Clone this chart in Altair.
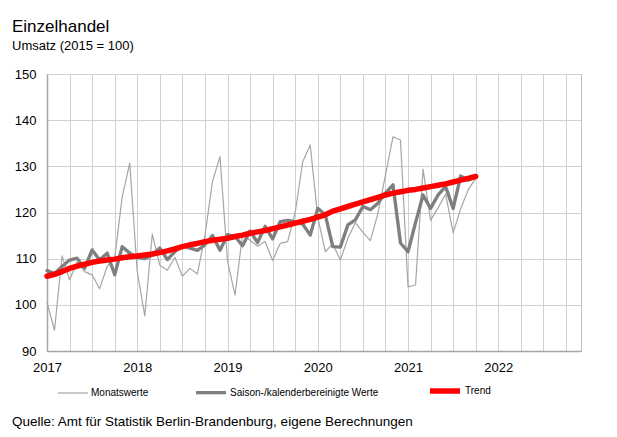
import altair as alt
import pandas as pd

# Monthly index Jan 2017 .. Oct 2021 (58 months)
months = [f"{y}-{m:02d}" for y in range(2017, 2022) for m in range(1, 13)][:58]

monatswerte = [
    100.5, 94.5, 110.6, 105.4, 109.3, 107.2, 106.5, 103.5, 108.3, 110.2, 123.4, 130.7,
    107.2, 97.6, 115.3, 108.6, 107.5, 110.3, 106.2, 107.9, 106.7, 115.0, 126.7, 132.1,
    109.5, 102.1, 115.2, 114.0, 112.7, 113.7, 109.6, 113.3, 113.7, 120.0, 131.0, 134.6,
    119.0, 111.5, 113.2, 109.7, 114.4, 117.8, 115.7, 113.9, 119.8, 128.1, 136.4, 135.7,
    103.9, 104.3, 129.4, 118.3, 121.0, 124.0, 115.6, 120.8, 124.9, 127.4,
]
saison = [
    107.4, 106.8, 108.3, 109.7, 110.1, 107.9, 111.9, 109.7, 111.2, 106.5, 112.6, 111.2,
    110.3, 110.0, 110.8, 112.3, 109.8, 111.5, 112.8, 112.3, 111.8, 113.0, 115.0, 111.8,
    115.2, 114.8, 112.8, 116.0, 113.5, 117.0, 114.3, 118.0, 118.3, 118.0, 117.5, 115.1,
    120.9, 119.5, 112.6, 112.5, 117.3, 118.4, 121.3, 120.6, 122.0, 124.2, 126.0, 113.4,
    111.5, 117.8, 123.8, 120.9, 123.8, 125.6, 120.9, 127.9, 127.0, 127.8,
]
trend = [
    106.2, 106.6, 107.2, 107.9, 108.4, 108.8, 109.2, 109.5, 109.7, 109.9, 110.2, 110.4,
    110.6, 110.8, 111.0, 111.3, 111.7, 112.1, 112.6, 113.0, 113.3, 113.7, 114.0, 114.2,
    114.4, 114.8, 115.1, 115.5, 115.8, 116.1, 116.5, 116.9, 117.3, 117.7, 118.1, 118.5,
    119.0, 119.5, 120.3, 120.8, 121.3, 121.8, 122.3, 122.8, 123.3, 123.8, 124.2, 124.5,
    124.8, 125.0, 125.3, 125.6, 125.9, 126.2, 126.6, 127.0, 127.4, 127.8,
]

series_names = ["Monatswerte", "Saison-/kalenderbereinigte Werte", "Trend"]
series_colors = ["#a6a6a6", "#7f7f7f", "#ff0000"]
series_widths = [1.2, 5.5, 4.8]
y_ticks = [90, 100, 110, 120, 130, 140, 150]
x_ticks = list(range(0, 72, 3))
source_text = "Quelle: Amt für Statistik Berlin-Brandenburg, eigene Berechnungen"

rows = []
for name, vals in zip(series_names, [monatswerte, saison, trend]):
    for i, (m, v) in enumerate(zip(months, vals)):
        rows.append({"t": i, "month": m, "value": v, "series": name})
df = pd.DataFrame(rows)

FONT = "Liberation Sans"

x_enc = alt.X(
    "t:Q",
    scale=alt.Scale(domain=[0, 71], nice=False, zero=False),
    axis=alt.Axis(
        values=x_ticks,
        labelExpr="datum.value % 12 == 0 ? toString(2017 + datum.value / 12) : ''",
        title=None, grid=True, ticks=False, labelFontSize=13, labelPadding=10,
        labelOverlap=False, labelFlush=False, labelColor="black",
        domainColor="#a6a6a6", domainWidth=1.5,
    ),
)
y_enc = alt.Y(
    "value:Q",
    scale=alt.Scale(domain=[90, 150], nice=False, zero=False),
    axis=alt.Axis(
        values=y_ticks, title=None, ticks=False, labelFontSize=13, labelPadding=11,
        labelColor="black", domainColor="#a6a6a6", domainWidth=1.5,
    ),
)
color_enc = alt.Color(
    "series:N", scale=alt.Scale(domain=series_names, range=series_colors), title=None
)
width_enc = alt.StrokeWidth(
    "series:N", scale=alt.Scale(domain=series_names, range=series_widths), title=None
)

base = alt.Chart(df)
layers = []
for name in series_names:
    layers.append(
        base.transform_filter(alt.datum.series == name)
        .mark_line(strokeJoin="round", strokeCap="round")
        .encode(x=x_enc, y=y_enc, color=color_enc, strokeWidth=width_enc)
    )

source = alt.Chart(pd.DataFrame({"text": [source_text]})).mark_text(
    align="left", baseline="alphabetic", fontSize=13.5, font=FONT, color="black"
).encode(x=alt.value(-35), y=alt.value(352), text="text:N")

chart = (
    alt.layer(*layers, source)
    .properties(
        width=534,
        height=277,
        autosize=alt.AutoSizeParams(type="none"),
        padding={"left": 39, "top": 66, "right": 28, "bottom": 78},
        title=alt.TitleParams(
            text="Einzelhandel",
            subtitle="Umsatz (2015 = 100)",
            anchor="start",
            frame="group",
            dx=-35,
            offset=14,
            fontSize=17,
            subtitleFontSize=13,
            font=FONT,
            subtitleFont=FONT,
            fontWeight="normal",
            color="black",
            subtitleColor="black",
            subtitlePadding=4,
        ),
    )
    .configure(font=FONT)
    .configure_view(stroke="#bfbfbf", strokeWidth=1)
    .configure_axis(gridColor="#d0d0d0", gridWidth=1, labelFont=FONT)
    .configure_legend(
        orient="none",
        legendX=10,
        legendY=299,
        direction="horizontal",
        symbolType="stroke",
        symbolSize=900,
        labelFontSize=10,
        labelFont=FONT,
        labelColor="black",
        labelOffset=2,
        columnPadding=40,
        padding=0,
    )
)

chart.save("out.html", embed_options={"renderer": "svg", "actions": False})
